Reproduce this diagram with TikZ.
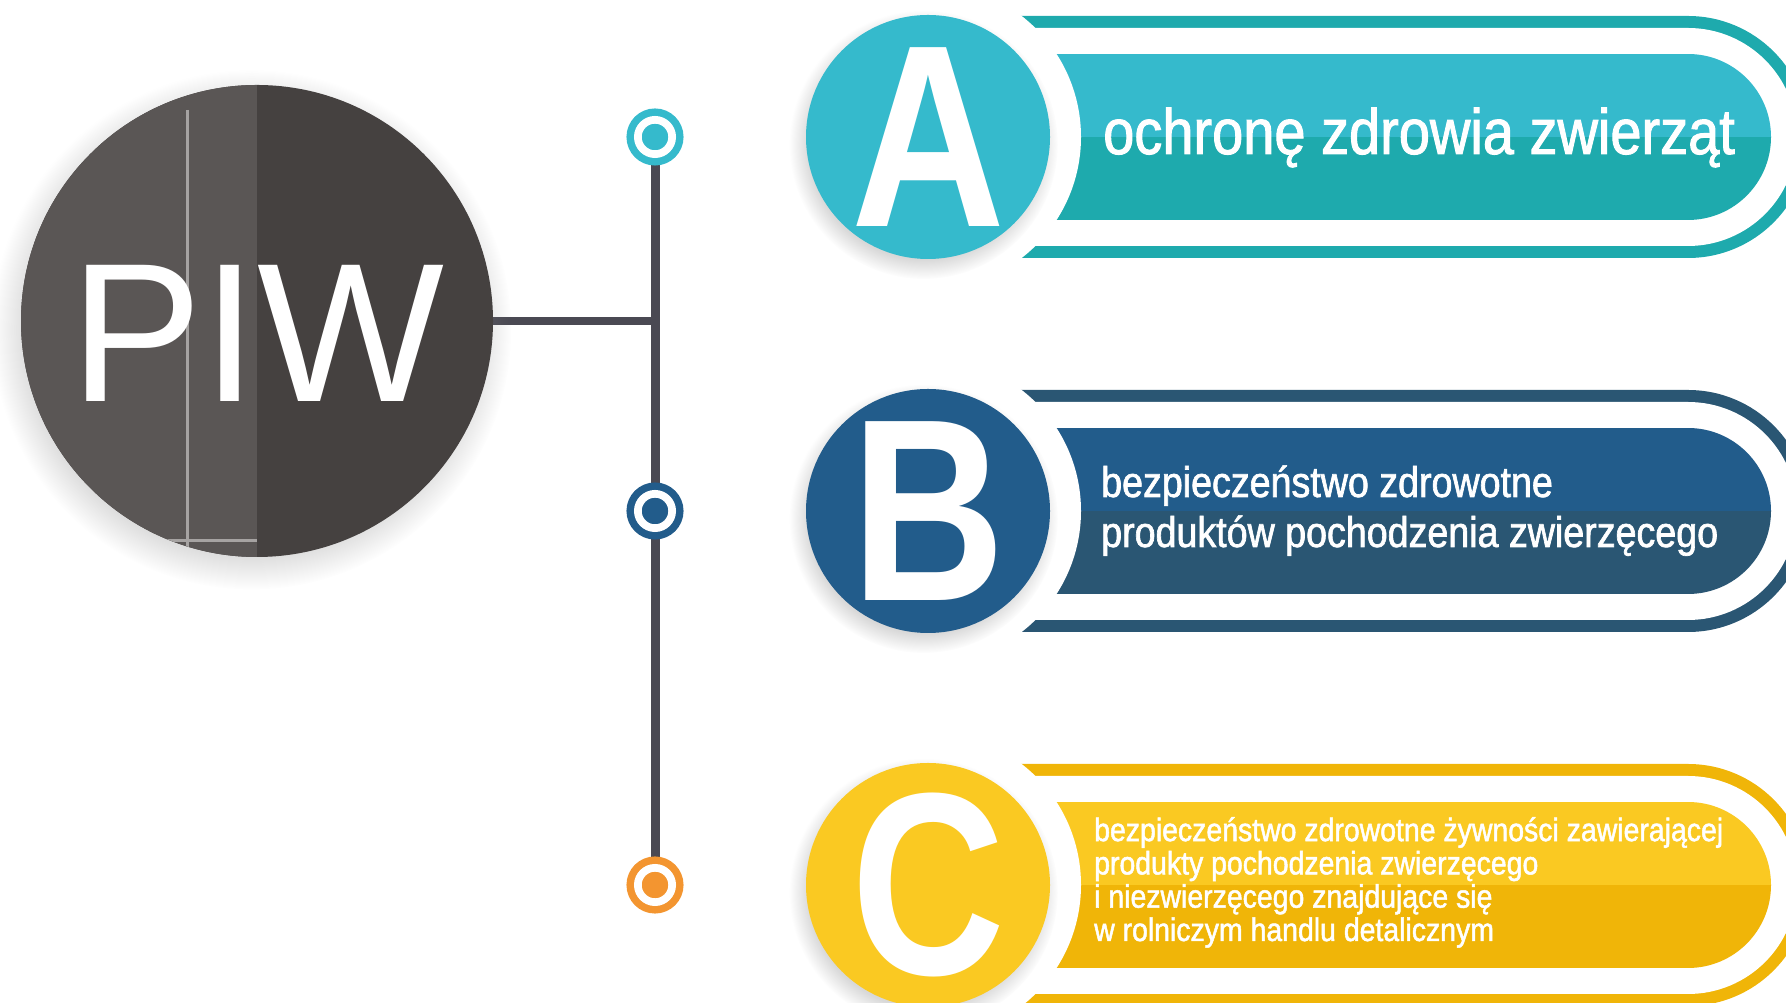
\documentclass[tikz,border=0pt]{standalone}
\usepackage{fontspec}
\setmainfont{Liberation Sans}
\newfontfamily\barfont[FakeStretch=0.875,FakeBold=1.5]{Liberation Sans}
\newfontfamily\letterfont[FakeStretch=0.82]{Liberation Sans}
\usetikzlibrary{shadows,backgrounds}

\definecolor{piwdark}{HTML}{454140}
\definecolor{piwlight}{HTML}{5A5655}
\definecolor{piwline}{HTML}{A6A3A2}
\definecolor{stemgray}{HTML}{4A4953}
\definecolor{aTop}{HTML}{35BACC}
\definecolor{aBot}{HTML}{1EAAAD}
\definecolor{bTop}{HTML}{225C8B}
\definecolor{bBot}{HTML}{2A5673}
\definecolor{cTop}{HTML}{FAC922}
\definecolor{cBot}{HTML}{F0B508}
\definecolor{cDot}{HTML}{F39530}

\tikzset{
  lettercirc/.style={circle,fill=#1,inner sep=0pt,minimum size=244pt,text=white,
    font=\letterfont\bfseries\fontsize{260}{260}\selectfont,
    circular drop shadow={shadow xshift=-4pt,shadow yshift=-7pt,opacity=.3}},
  ringdot/.style={circle,inner sep=0pt,minimum size=34.3pt,fill=#1,draw=#1,
    line width=7.5pt,double=white,double distance=7.7pt},
  bartext/.style={text=white,anchor=base west,align=left,inner sep=0pt},
  stem/.style={draw=stemgray,line width=9pt},
}

\begin{document}
\begin{tikzpicture}[x=1pt,y=1pt]
\useasboundingbox (0,0) rectangle (1786,1003);
\clip (0,0) rectangle (1786,1003);

% banners: outer ring, two-tone bar, white gap round the letter
\foreach \yc/\cl/\cd in {866/aTop/aBot,492/bTop/bBot,118/cTop/cBot} {
  \fill[\cd] (900,\yc+121) -- (1688,\yc+121) arc[start angle=90,end angle=-90,radius=121] -- (900,\yc-121) -- cycle;
  \fill[white] (900,\yc+109) -- (1688,\yc+109) arc[start angle=90,end angle=-90,radius=109] -- (900,\yc-109) -- cycle;
  \begin{scope}
    \clip (900,\yc+83) -- (1688,\yc+83) arc[start angle=90,end angle=-90,radius=83] -- (900,\yc-83) -- cycle;
    \fill[\cl] (900,\yc) rectangle (1780,\yc+83);
    \fill[\cd] (900,\yc) rectangle (1780,\yc-83);
  \end{scope}
  \fill[white] (928,\yc) circle[radius=153];
}

\node[lettercirc=aTop] (la) at (928,866) {A};
\node[lettercirc=bTop] (lb) at (928,492) {B};
\node[lettercirc=cTop] (lc) at (928,118) {C};

% texts (base = last line)
\node[bartext,font=\barfont\fontsize{64}{70}\selectfont] (ta) at (1103,849) {ochronę zdrowia zwierząt};
\node[bartext,font=\barfont\fontsize{43}{50}\selectfont] (tb) at (1101,456)
  {bezpieczeństwo zdrowotne\\produktów pochodzenia zwierzęcego};
\node[bartext,font=\barfont\fontsize{32.5}{33.3}\selectfont] (tc) at (1094,62)
  {bezpieczeństwo zdrowotne żywności zawierającej\\produkty pochodzenia zwierzęcego\\i niezwierzęcego znajdujące się\\w rolniczym handlu detalicznym};

% PIW disc
\node[circle,fill=piwdark,inner sep=0pt,minimum size=472pt,text=white,
  font=\fontsize{198}{200}\selectfont,text height=162pt,
  circular drop shadow={shadow xshift=-5pt,shadow yshift=-8pt,opacity=.3},
  path picture={
    \fill[piwlight] (path picture bounding box.south west) rectangle (path picture bounding box.north);
    \draw[piwline,line width=3pt] ([shift={(-70,211)}]path picture bounding box.center) -- ++(0,-455);
    \draw[piwline,line width=3pt] ([shift={(-140,-220)}]path picture bounding box.center) -- ++(140,0);
  }] (piw) at (257,682) {PIW\hspace{16pt}};

% timeline
\node[ringdot=aTop] (da) at (655,866) {};
\node[ringdot=bTop] (db) at (655,492) {};
\node[ringdot=cDot] (dc) at (655,118) {};
\coordinate (hub) at (655,682);
\begin{scope}[on background layer]
  \draw[stem] (da.center) -- (dc.center);
  \draw[stem,line width=8pt] (piw.east) -- (hub);
\end{scope}
\end{tikzpicture}
\end{document}
